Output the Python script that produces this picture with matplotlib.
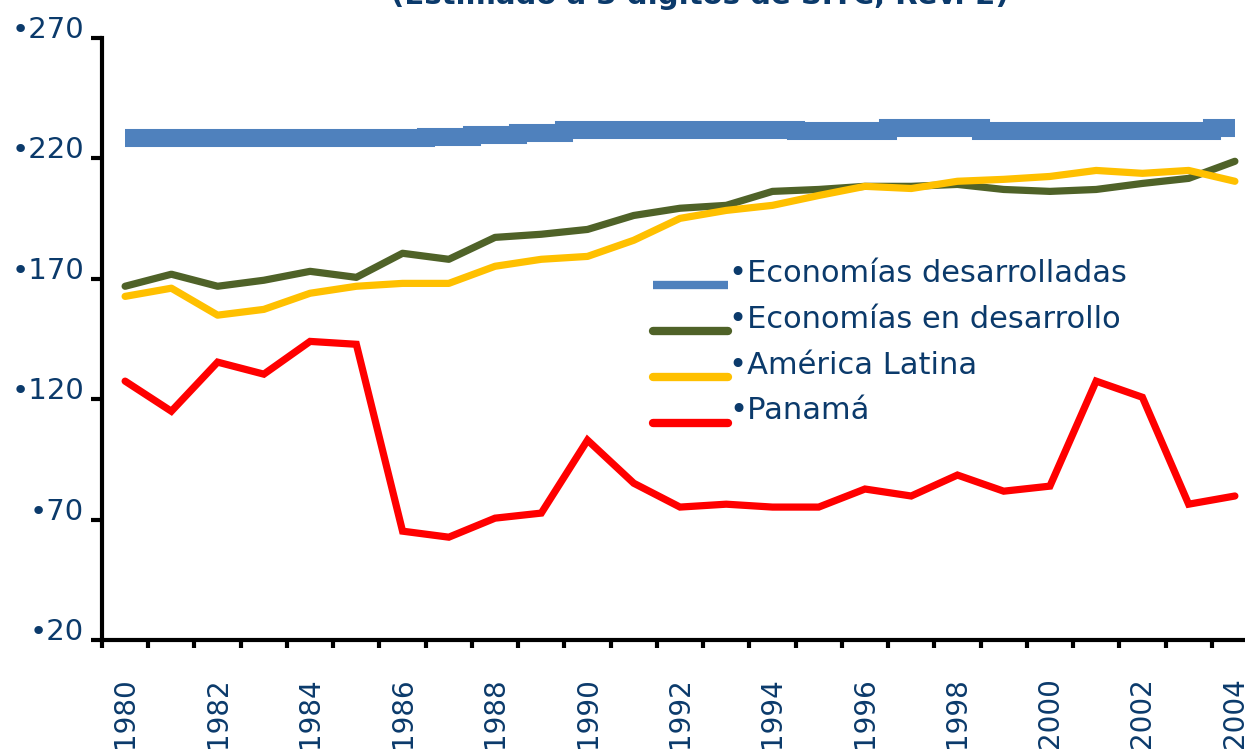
import numpy as np
import matplotlib
matplotlib.use("Agg")
import matplotlib.pyplot as plt

# years on the category axis
years = list(range(1980, 2005))

# values
desarrolladas = [228.3, 228.3, 228.3, 228.3, 228.6, 228.6, 228.3, 229.0, 229.8, 230.7,
                 231.8, 231.8, 231.8, 231.8, 231.8, 231.4, 231.4, 232.5, 232.5, 231.4,
                 231.4, 231.4, 231.4, 231.4, 232.5]
en_desarrollo = [166.9, 171.9, 166.9, 169.4, 173.1, 170.6, 180.6, 178.1, 187.2, 188.5,
                 190.5, 196.3, 199.3, 200.5, 206.3, 207.1, 208.4, 208.4, 209.2, 207.1,
                 206.3, 207.1, 209.6, 211.7, 218.8]
america_latina = [162.7, 166.1, 154.9, 157.3, 164.0, 166.9, 168.1, 168.1, 175.2, 178.1,
                  179.3, 186.0, 195.1, 198.4, 200.5, 204.6, 208.4, 207.5, 210.5, 211.3,
                  212.5, 215.0, 213.8, 215.0, 210.5]
panama = [127.5, 115.0, 135.4, 130.4, 144.0, 142.8, 65.2, 62.7, 70.6, 72.7,
          103.0, 85.1, 75.2, 76.4, 75.2, 75.2, 82.7, 79.8, 88.5, 81.8,
          83.9, 127.5, 120.8, 76.4, 79.8]

y_ticks = [20, 70, 120, 170, 220, 270]
title = "(Estimado a 3 dígitos de SITC, Rev. 2)"

NAVY = "#0b3a6b"
W, H = 1245, 751

fig = plt.figure(figsize=(W / 100, H / 100), dpi=100)
ax = fig.add_axes([102 / W, 111 / H, 1156 / W, 602 / H])

x = np.arange(len(years))
ax.plot(x, desarrolladas, color="#4f81bd", lw=13, drawstyle="steps-mid",
        solid_capstyle="butt", solid_joinstyle="miter",
        label="•Economías desarrolladas")
ax.plot(x, en_desarrollo, color="#4f6228", lw=5.2, solid_capstyle="round",
        solid_joinstyle="round", label="•Economías en desarrollo")
ax.plot(x, america_latina, color="#ffc000", lw=5.2, solid_capstyle="round",
        solid_joinstyle="round", label="•América Latina")
ax.plot(x, panama, color="#ff0000", lw=5.2, solid_capstyle="round",
        solid_joinstyle="miter", label="•Panamá")

ax.set_xlim(-0.5, len(years) - 0.5)
ax.set_ylim(20, 270)

for s in ("top", "right"):
    ax.spines[s].set_visible(False)
for s in ("left", "bottom"):
    ax.spines[s].set_linewidth(3)
    ax.spines[s].set_color("black")

# y axis
ax.set_yticks(y_ticks)
ax.set_yticklabels([f"•{v}" for v in y_ticks], fontsize=21, color=NAVY, va="baseline")
ax.tick_params(axis="y", direction="out", length=8, width=3, pad=5)

# x axis: tick marks between categories, labels every other year
ax.set_xticks(np.arange(-0.5, len(years), 1.0))
ax.set_xticklabels([])
ax.set_xticks(x[::2], minor=True)
ax.set_xticklabels([str(y) for y in years[::2]], minor=True, rotation=90,
                   fontsize=20, color=NAVY, va="top")
ax.tick_params(axis="x", which="major", direction="out", length=6, width=3)
ax.tick_params(axis="x", which="minor", length=0, pad=27)

leg = ax.legend(loc="upper left", bbox_to_anchor=(653 / W, 1 - 259 / H),
                bbox_transform=fig.transFigure, frameon=False, fontsize=22,
                handlelength=2.45, handletextpad=0.05, labelspacing=0.55,
                borderpad=0, borderaxespad=0)
for t in leg.get_texts():
    t.set_color(NAVY)
for h in leg.get_lines():
    h.set_linewidth(6)
    h.set_ydata(np.asarray(h.get_ydata()) - 10)

fig.text(700 / W, 1 - 4 / H, title, ha="center", va="baseline",
         fontsize=21, fontweight="bold", color=NAVY)

fig.savefig("out.png", dpi=100)
